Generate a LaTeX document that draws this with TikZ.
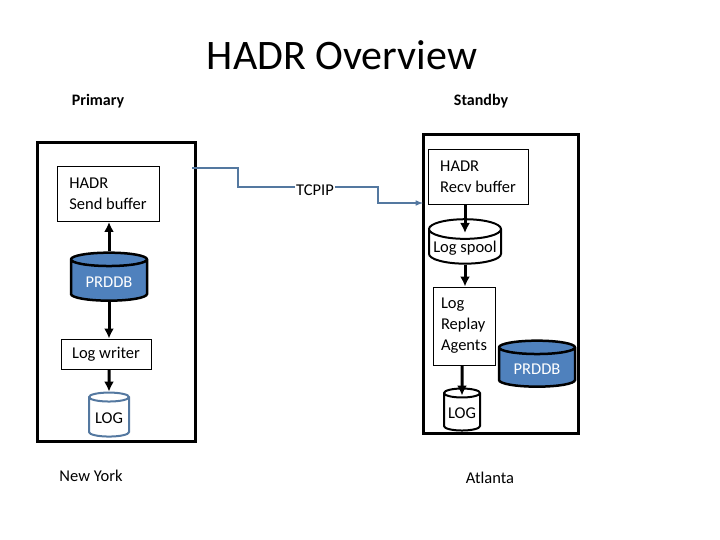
\documentclass[tikz,border=0pt]{standalone}
\usepackage{fontspec}
\setmainfont{Carlito}
\usetikzlibrary{shapes.geometric,arrows.meta}
\definecolor{dbblue}{RGB}{79,129,189}
\definecolor{linkblue}{RGB}{84,120,160}
\tikzset{
  site/.style={draw, line width=3pt},
  buffer/.style={draw, line width=1pt, fill=white, align=left, font=\fontsize{16.5}{21}\selectfont, inner sep=5pt},
  db/.style={cylinder, shape border rotate=90, draw=black, line width=2.5pt, aspect=0.25,
    cylinder uses custom fill, cylinder body fill=dbblue, cylinder end fill=dbblue,
    text=white, font=\fontsize{16.5}{20}\selectfont},
  spool/.style={cylinder, shape border rotate=90, draw=black, line width=2pt, aspect=0.3,
    fill=white, font=\fontsize{16.5}{20}\selectfont, inner sep=1pt},
  flow/.style={-{Latex[length=10pt,width=10pt]}, line width=3pt},
}
\begin{document}
\begin{tikzpicture}[x=1pt, y=-1pt]
\useasboundingbox (0,0) rectangle (720,540);

% titles
\node (title) at (342,55) {\fontsize{42}{48}\selectfont HADR Overview};
\node [font=\fontsize{16}{19}\selectfont\bfseries] (primary) at (98,101) {Primary};
\node [font=\fontsize{16}{19}\selectfont\bfseries] (standby) at (481,101) {Standby};
\node [font=\fontsize{16.5}{20}\selectfont] (newyork) at (91,476) {New York};
\node [font=\fontsize{16.5}{20}\selectfont] (atlanta) at (490,478) {Atlanta};

% sites
\draw [site] (37,143) rectangle (195,441);
\draw [site] (423,135) rectangle (578,433);

% primary
\node [buffer, minimum width=102pt, minimum height=55pt] (send) at (108,194) {HADR\\Send buffer};
\node [db, minimum width=76pt, minimum height=48pt] (prddb1) at (109,282) {PRDDB};
\node [buffer, minimum width=90pt, minimum height=30pt] (writer) at (106,354) {Log writer};
\node [spool, draw=linkblue, minimum width=40pt, minimum height=44pt] (log1) at (109,418) {LOG};

% standby
\node [buffer, minimum width=100pt, minimum height=55pt] (recv) at (478,177) {HADR\\Recv buffer};
\node [spool, minimum width=72pt, minimum height=40pt] (spool) at (465,248) {Log spool};
\node [buffer, minimum width=62pt, minimum height=78pt] (replay) at (464,326) {Log\\Replay\\Agents};
\node [db, minimum width=76pt, minimum height=46pt] (prddb2) at (537,369) {PRDDB};
\node [spool, minimum width=36pt, minimum height=42pt] (log2) at (462,413) {LOG};

% TCPIP link
\node [font=\fontsize{16.5}{20}\selectfont, inner sep=1pt] (tcpip) at (315,190) {TCPIP};
\coordinate (linkstart) at (192,168);
\coordinate (linkend) at (423,203);
\draw [linkblue, line width=1.5pt] (linkstart) -- (238,168) -- (238,187) -- (tcpip.west |- 0,187);
\draw [linkblue, line width=1.5pt, -latex] (tcpip.east |- 0,187) -- (378,187) |- (linkend);

% flows
\draw [flow] (prddb1.north -| log1) -- (send.south -| log1);
\draw [flow] (prddb1.south -| log1) -- (writer.north -| log1);
\draw [flow] (writer.south -| log1) -- (log1.north);
\draw [flow] (recv.south -| spool) -- ++(0,28);
\draw [flow] (spool.south) -- (replay.north -| spool);
\draw [flow] (replay.south -| log2) -- ([yshift=-8pt]log2.north);
\end{tikzpicture}
\end{document}
